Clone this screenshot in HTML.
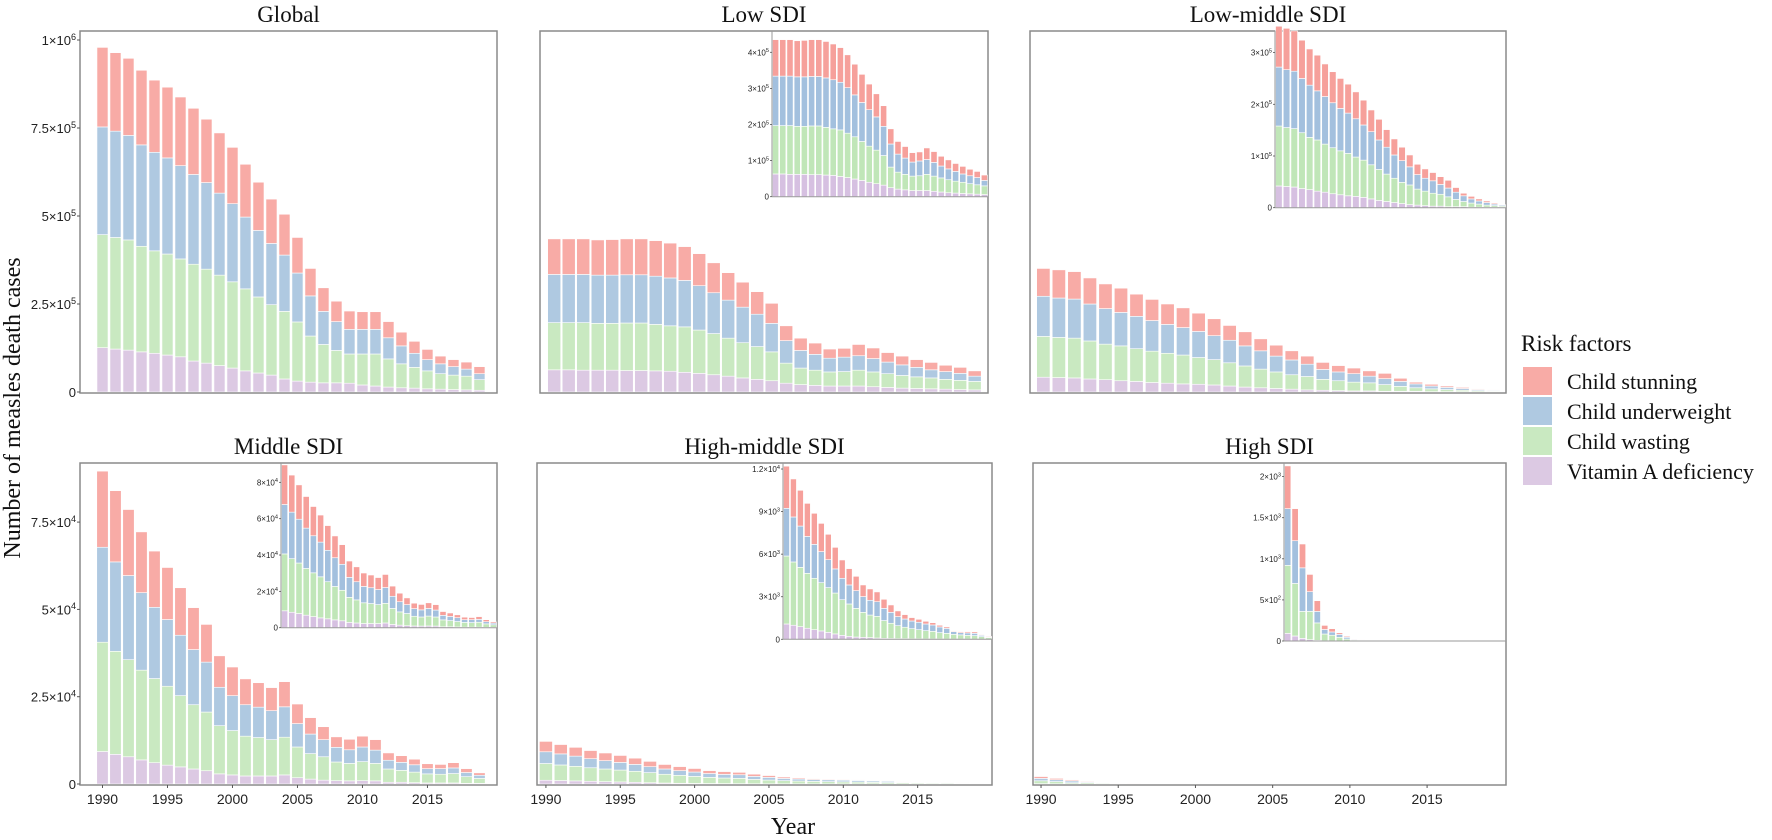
<!DOCTYPE html>
<html><head><meta charset="utf-8"><title>Measles deaths by risk factor</title>
<style>
html,body{margin:0;padding:0;background:#fff;}
svg{display:block;}
.t{font-family:"Liberation Serif",serif;fill:#111;}
.s{font-family:"Liberation Sans",sans-serif;fill:#222;}
</style></head>
<body>
<svg id="chart" width="1772" height="840" viewBox="0 0 1772 840" xmlns="http://www.w3.org/2000/svg">
<text class="t" x="20" y="408" font-size="24" text-anchor="middle" transform="rotate(-90 20 408)">Number of measles death cases</text>
<text class="t" x="793" y="834" font-size="24" text-anchor="middle">Year</text>
<g>
<text class="t" x="1521" y="351" font-size="23">Risk factors</text>
<rect x="1523" y="367" width="29" height="28" fill="#F8ABA6"/>
<text class="t" x="1567" y="389" font-size="22">Child stunning</text>
<rect x="1523" y="397" width="29" height="28" fill="#AFC9E1"/>
<text class="t" x="1567" y="419" font-size="22">Child underweight</text>
<rect x="1523" y="427" width="29" height="28" fill="#C9E9C1"/>
<text class="t" x="1567" y="449" font-size="22">Child wasting</text>
<rect x="1523" y="457" width="29" height="28" fill="#DCC9E3"/>
<text class="t" x="1567" y="479" font-size="22">Vitamin A deficiency</text>
</g>
</svg>
<script>
// ---- data (deaths, thousands) ----
const years = [1990,1991,1992,1993,1994,1995,1996,1997,1998,1999,2000,2001,2002,2003,2004,2005,2006,2007,2008,2009,2010,2011,2012,2013,2014,2015,2016,2017,2018,2019];
const xTickYears = [1990,1995,2000,2005,2010,2015];
const riskFactors = ['Child stunning','Child underweight','Child wasting','Vitamin A deficiency'];

const globalStunting = [226,223,219,212,205,201,195,188,180,171,160,150,137,126,116,101,78,67,58,52,50,50,46,39,34,29,22,20,20,20];
const globalUnderweight = [306,302,297,288,280,273,265,255,246,233,222,204,189,174,160,139,114,94,82,70,70,70,60,51,40,32,28,24,20,17];
const globalWasting = [321,317,313,300,291,287,278,275,267,257,245,233,216,200,192,168,131,109,92,83,88,91,80,68,59,51,44,41,39,30];
const globalVitA = [126,122,119,114,110,105,100,88,82,75,68,60,54,48,37,31,28,26,26,25,20,17,14,12,11,9,8,7,6,5];

const lowStunting = [101,101,101,100,101,102,102,101,99,96,91,85,78,71,64,57,42,35,32,26,25,32,30,27,25,22,21,18,17,15];
const lowUnderweight = [137,137,137,137,137,137,137,137,136,132,126,116,108,101,92,81,64,50,45,39,41,41,38,33,30,27,23,22,20,15];
const lowWasting = [134,134,135,133,133,135,135,132,129,129,123,117,108,100,93,82,57,47,43,40,41,45,42,39,36,33,31,28,26,24];
const lowVitA = [63,63,62,62,62,61,61,60,59,56,53,49,45,40,36,32,25,21,19,17,17,17,15,13,11,10,9,8,7,6];

const lowMidStunting = [79,80,78,74,70,69,63,60,58,56,52,48,42,40,34,31,26,23,20,18,16,15,15,9,5,5,4,3,2,1];
const lowMidUnderweight = [114,112,111,105,101,95,92,87,82,78,74,68,64,57,52,45,42,35,28,25,24,19,17,14,11,8,6,5,3,2];
const lowMidWasting = [116,114,113,108,101,99,93,89,85,82,76,72,66,60,53,47,41,38,31,28,25,23,19,14,10,8,6,4,3,2];
const lowMidVitA = [42,41,40,37,35,32,30,27,25,23,22,20,17,14,12,10,8,6,5,4,3,3,2,2,2,1,1,1,1,1];

const midStunting = [21.8,20.4,18.9,17.4,16.1,14.9,13.6,12,10.8,9,8.2,7.4,7,6.6,7.2,5.6,4.7,3.7,3,3,3.1,3,2.1,1.9,1.6,1.4,1.2,1.5,1.1,0.7];
const midUnderweight = [27.2,25.6,24.1,22.2,20.4,19.1,17.3,15.8,14.3,11,10,9,8.7,8.3,8.7,6.7,5.6,4.9,4.2,3.9,4.2,3.8,2.5,2.3,2.1,1.5,1.6,1.6,1.2,0.9];
const midWasting = [31.3,29.5,27.8,25.7,24.1,22.6,20.4,18.4,16.8,13.8,12.7,11.4,11,10.4,10.8,8.8,7.3,6.7,5.35,5,5.45,5,3.8,3.4,3,2.6,2.5,2.7,1.9,1.4];
const midVitA = [9.3,8.5,7.8,6.9,6.1,5.4,4.9,4.3,3.8,2.9,2.6,2.3,2.3,2.3,2.6,1.8,1.4,1.1,0.95,0.9,0.95,0.9,0.5,0.5,0.4,0.3,0.3,0.3,0.2,0.2];

const highMidStunting = [2.97,2.68,2.52,2.33,2.19,1.99,1.79,1.52,1.29,1.15,1.01,0.82,0.8,0.69,0.64,0.52,0.4,0.31,0.24,0.21,0.19,0.16,0.12,0.1,0.05,0.07,0.09,0.1,0.05,0.05];
const highMidUnderweight = [3.36,3.17,2.91,2.6,2.39,2.19,1.97,1.7,1.51,1.34,1.25,1.11,1.04,1.03,0.86,0.77,0.64,0.58,0.54,0.52,0.47,0.45,0.4,0.35,0.19,0.16,0.17,0.16,0.09,0.04];
const highMidWasting = [4.79,4.46,4.18,3.87,3.62,3.4,3.15,2.88,2.51,2.28,2.02,1.76,1.59,1.53,1.25,1.07,0.91,0.8,0.71,0.64,0.58,0.53,0.44,0.4,0.33,0.29,0.26,0.25,0.18,0.11];
const highMidVitA = [1.08,0.99,0.89,0.78,0.68,0.59,0.49,0.38,0.28,0.21,0.16,0.14,0.12,0.09,0.07,0.06,0.05,0.05,0.04,0.04,0.03,0.03,0.03,0.02,0.02,0.02,0.02,0.01,0.01,0.01];

const highStunting = [0.52,0.39,0.29,0.21,0.13,0.05,0.04,0.02,0.012,0.008,0.004,0.003,0.002,0.001,0.001,0.001,0.001,0.001,0.001,0.001,0.001,0.001,0.001,0.001,0.001,0.001,0.001,0.001,0.001,0.001];
const highUnderweight = [0.69,0.52,0.53,0.24,0.14,0.055,0.04,0.035,0.021,0.008,0.005,0.003,0.002,0.002,0.001,0.001,0.001,0.001,0.001,0.001,0.001,0.001,0.001,0.001,0.001,0.001,0.001,0.001,0.001,0.001];
const highWasting = [0.827,0.639,0.328,0.344,0.212,0.081,0.067,0.043,0.023,0.011,0.005,0.003,0.002,0.001,0.001,0.001,0.001,0.001,0.001,0.001,0.001,0.001,0.001,0.001,0.001,0.001,0.001,0.001,0.001,0.001];
const highVitA = [0.093,0.061,0.032,0.016,0.008,0.004,0.003,0.002,0.001,0.001,0,0,0,0,0,0,0,0,0,0,0,0,0,0,0,0,0,0,0,0];

const row1TickValues = [0,250,500,750,1000];
const row1TickLabels = [['0',''],['2.5\u00d710','5'],['5\u00d710','5'],['7.5\u00d710','5'],['1\u00d710','6']];
const row2TickValues = [0,25,50,75];
const row2TickLabels = [['0',''],['2.5\u00d710','4'],['5\u00d710','4'],['7.5\u00d710','4']];
const lowInsetTicks = [0,100,200,300,400];
const lowInsetLabels = [['0',''],['1\u00d710','5'],['2\u00d710','5'],['3\u00d710','5'],['4\u00d710','5']];
const lowMidInsetTicks = [0,100,200,300];
const lowMidInsetLabels = [['0',''],['1\u00d710','5'],['2\u00d710','5'],['3\u00d710','5']];
const midInsetTicks = [0,20,40,60,80];
const midInsetLabels = [['0',''],['2\u00d710','4'],['4\u00d710','4'],['6\u00d710','4'],['8\u00d710','4']];
const highMidInsetTicks = [0,3,6,9,12];
const highMidInsetLabels = [['0',''],['3\u00d710','3'],['6\u00d710','3'],['9\u00d710','3'],['1.2\u00d710','4']];
const highInsetTicks = [0,0.5,1,1.5,2];
const highInsetLabels = [['0',''],['5\u00d710','2'],['1\u00d710','3'],['1.5\u00d710','3'],['2\u00d710','3']];

// ---- drawing ----
const NS = 'http://www.w3.org/2000/svg';
const svg = document.getElementById('chart');
const COLORS = ['#F8ABA6','#AFC9E1','#C9E9C1','#DCC9E3'];
const INSET_COLORS = ['#F6A09B','#A3C0DE','#C0E6B8','#D6C0E1'];
const KEYS = ['stunting','underweight','wasting','vitamin-a'];

function mk(tag, attrs, parent){
  const el = document.createElementNS(NS, tag);
  for (const k in attrs) el.setAttribute(k, attrs[k]);
  (parent||svg).appendChild(el);
  return el;
}
function label(parent, x, y, parts, size, anchor){
  const t = mk('text', {x:x, y:y, 'font-size':size, 'text-anchor':anchor, class:'s'}, parent);
  
  
  t.appendChild(document.createTextNode(parts[0]));
  if (parts[1]) {
    const sp = mk('tspan', {'font-size':size*0.7, dy:-size*0.4}, t);
    sp.textContent = parts[1];
  }
  return t;
}

const panels = [
  {id:'global', title:'Global', x0:80, x1:497, top:31, bot:393, zero:392, pxk:0.352, dom:[1988.27,2020.35], bw:0.85,
   series:[globalStunting,globalUnderweight,globalWasting,globalVitA], yTicks:row1TickValues, yLabels:row1TickLabels, xLabels:false, inset:null},
  {id:'low-sdi', title:'Low SDI', x0:540, x1:988, top:31, bot:393, zero:392, pxk:0.352, dom:[1989.02,2019.92], bw:0.9,
   series:[lowStunting,lowUnderweight,lowWasting,lowVitA], yTicks:null, xLabels:false,
   inset:{x0:772, x1:988, zero:196.7, pxk:0.361, ticks:lowInsetTicks, labels:lowInsetLabels}},
  {id:'low-middle-sdi', title:'Low-middle SDI', x0:1030, x1:1506, top:31, bot:393, zero:392, pxk:0.352, dom:[1989.14,2019.8], bw:0.86,
   series:[lowMidStunting,lowMidUnderweight,lowMidWasting,lowMidVitA], yTicks:null, xLabels:false,
   inset:{x0:1275, x1:1506, zero:207.7, pxk:0.517, ticks:lowMidInsetTicks, labels:lowMidInsetLabels}},
  {id:'middle-sdi', title:'Middle SDI', x0:80, x1:497, top:463, bot:785, zero:784, pxk:3.492, dom:[1988.27,2020.35], bw:0.88,
   series:[midStunting,midUnderweight,midWasting,midVitA], yTicks:row2TickValues, yLabels:row2TickLabels, xLabels:true,
   inset:{x0:281, x1:497, zero:627.7, pxk:1.817, ticks:midInsetTicks, labels:midInsetLabels}},
  {id:'high-middle-sdi', title:'High-middle SDI', x0:537, x1:992, top:463, bot:785, zero:784, pxk:3.492, dom:[1989.4,2020.0], bw:0.88,
   series:[highMidStunting,highMidUnderweight,highMidWasting,highMidVitA], yTicks:null, xLabels:true,
   inset:{x0:783, x1:992, zero:639.3, pxk:14.19, ticks:highMidInsetTicks, labels:highMidInsetLabels}},
  {id:'high-sdi', title:'High SDI', x0:1033, x1:1506, top:463, bot:785, zero:784, pxk:3.492, dom:[1989.48,2020.11], bw:0.9,
   series:[highStunting,highUnderweight,highWasting,highVitA], yTicks:null, xLabels:true,
   inset:{x0:1284, x1:1506, zero:641, pxk:82.2, ticks:highInsetTicks, labels:highInsetLabels}}
];

function drawStack(g, series, xOf, halfW, yOf, colors, prefix){
  for (let i = 0; i < years.length; i++) {
    let cum = 0;
    // bottom to top: vitamin A, wasting, underweight, stunting
    for (let s = 3; s >= 0; s--) {
      const v = series[s][i];
      const yb = yOf(cum), yt = yOf(cum + v);
      cum += v;
      const h = yb - yt;
      if (h <= 0) continue;
      const r = mk('rect', {x:(xOf(years[i]) - halfW).toFixed(2), y:yt.toFixed(2), width:(2*halfW).toFixed(2), height:h.toFixed(2),
        fill:colors[s], stroke:'#fff', 'stroke-width':0.6}, g);
      
      
    }
  }
}

panels.forEach(p => {
  const g = mk('g', {});
  
  
  const tt = mk('text', {x:(p.x0+p.x1)/2, y:p.top-9, 'font-size':23, 'text-anchor':'middle', class:'t'}, g);
  
  
  tt.textContent = p.title;

  const per = (p.x1 - p.x0) / (p.dom[1] - p.dom[0]);
  const xOf = y => p.x0 + (y - p.dom[0]) * per;
  const yOf = v => p.zero - v * p.pxk;
  drawStack(g, p.series, xOf, per * p.bw / 2, yOf, COLORS, p.id);

  const box = mk('rect', {x:p.x0, y:p.top, width:p.x1-p.x0, height:p.bot-p.top, fill:'none', stroke:'#8a8a8a', 'stroke-width':1.5}, g);
  
  

  if (p.yTicks) {
    p.yTicks.forEach((v, k) => {
      const y = yOf(v);
      mk('line', {x1:p.x0-3, x2:p.x0, y1:y, y2:y, stroke:'#555', 'stroke-width':1}, g);
      label(g, p.x0-4, y+5, p.yLabels[k], 13, 'end');
    });
  }
  if (p.xLabels) {
    xTickYears.forEach(yr => {
      const x = xOf(yr);
      mk('line', {x1:x, x2:x, y1:p.bot, y2:p.bot+3, stroke:'#555', 'stroke-width':1}, g);
      label(g, x, p.bot+19, [String(yr),''], 14, 'middle');
    });
  }
  if (p.inset) {
    const q = p.inset;
    const ig = mk('g', {}, g);
    
    
    const band = (q.x1 - q.x0) / 30;
    const ixOf = y => q.x0 + band * (years.indexOf(y) + 0.5);
    const iyOf = v => q.zero - v * q.pxk;
    drawStack(ig, p.series, ixOf, band * 0.43, iyOf, INSET_COLORS, p.id + '-inset');
    mk('line', {x1:q.x0, x2:q.x0, y1:p.top, y2:q.zero, stroke:'#999', 'stroke-width':1}, ig);
    mk('line', {x1:q.x0, x2:q.x1, y1:q.zero, y2:q.zero, stroke:'#999', 'stroke-width':1}, ig);
    q.ticks.forEach((v, k) => {
      const y = iyOf(v);
      mk('line', {x1:q.x0-2, x2:q.x0, y1:y, y2:y, stroke:'#555', 'stroke-width':0.8}, ig);
      label(ig, q.x0-3, y+3, q.labels[k], 8, 'end');
    });
  }
});
</script>
</body></html>
